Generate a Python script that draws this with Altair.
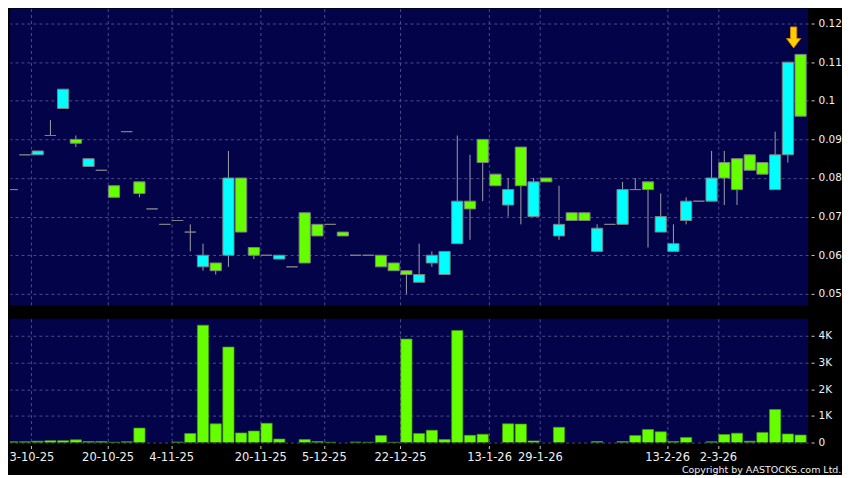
import altair as alt
import pandas as pd

# ---- data ----
slots = list(range(63))
opens = [0.077, 0.086, 0.086, 0.091, 0.098, 0.090, 0.083, 0.082, 0.078, 0.092,
         0.079, 0.072, 0.068, 0.069, 0.066, 0.057, 0.058, 0.060, 0.080, 0.062,
         0.060, 0.059, 0.057, 0.071, 0.068, 0.068, 0.066, 0.060, 0.060, 0.060,
         0.058, 0.056, 0.053, 0.058, 0.055, 0.063, 0.074, 0.090, 0.081, 0.073,
         0.088, 0.070, 0.080, 0.065, 0.071, 0.071, 0.061, 0.068, 0.068, 0.077,
         0.079, 0.066, 0.061, 0.069, 0.074, 0.074, 0.084, 0.085, 0.086, 0.084,
         0.077, 0.086, 0.112]
closes = [0.077, 0.086, 0.087, 0.091, 0.103, 0.089, 0.085, 0.082, 0.075, 0.092,
          0.076, 0.072, 0.068, 0.069, 0.066, 0.060, 0.056, 0.080, 0.066, 0.060,
          0.060, 0.060, 0.057, 0.058, 0.065, 0.068, 0.065, 0.060, 0.060, 0.057,
          0.056, 0.055, 0.055, 0.060, 0.061, 0.074, 0.072, 0.084, 0.078, 0.077,
          0.078, 0.079, 0.079, 0.068, 0.069, 0.069, 0.067, 0.068, 0.077, 0.077,
          0.077, 0.070, 0.063, 0.074, 0.074, 0.080, 0.080, 0.077, 0.082, 0.081,
          0.086, 0.110, 0.096]
highs = [0.077, 0.086, 0.087, 0.095, 0.103, 0.091, 0.085, 0.082, 0.078, 0.092,
         0.079, 0.072, 0.068, 0.069, 0.068, 0.063, 0.058, 0.087, 0.080, 0.062,
         0.060, 0.060, 0.057, 0.071, 0.068, 0.068, 0.066, 0.060, 0.060, 0.060,
         0.058, 0.056, 0.063, 0.061, 0.061, 0.091, 0.086, 0.090, 0.081, 0.080,
         0.088, 0.080, 0.080, 0.078, 0.071, 0.071, 0.068, 0.068, 0.079, 0.080,
         0.079, 0.076, 0.068, 0.075, 0.074, 0.087, 0.087, 0.085, 0.086, 0.084,
         0.092, 0.110, 0.112]
lows = [0.077, 0.086, 0.086, 0.091, 0.098, 0.088, 0.083, 0.082, 0.075, 0.092,
        0.075, 0.072, 0.068, 0.069, 0.061, 0.056, 0.055, 0.057, 0.066, 0.059,
        0.060, 0.059, 0.057, 0.058, 0.065, 0.068, 0.065, 0.060, 0.060, 0.057,
        0.056, 0.050, 0.053, 0.057, 0.055, 0.063, 0.064, 0.074, 0.078, 0.070,
        0.068, 0.070, 0.079, 0.064, 0.069, 0.069, 0.061, 0.068, 0.068, 0.077,
        0.062, 0.066, 0.061, 0.068, 0.074, 0.074, 0.073, 0.073, 0.082, 0.081,
        0.077, 0.084, 0.096]
volumes = [30, 30, 50, 70, 70, 100, 40, 40, 10, 30,
           540, 0, 0, 20, 340, 4400, 700, 3580, 360, 430,
           720, 130, 0, 110, 40, 10, 0, 20, 10, 260,
           10, 3880, 340, 460, 110, 4200, 270, 310, 0, 700,
           690, 60, 0, 570, 0, 0, 40, 0, 40, 260,
           490, 400, 40, 190, 0, 30, 300, 350, 50, 380,
           1240, 320, 280]
tick_slots = [2, 8, 13, 20, 25, 31, 38, 42, 52, 56]
tick_labels = ["3-10-25", "20-10-25", "4-11-25", "20-11-25", "5-12-25",
               "22-12-25", "13-1-26", "29-1-26", "13-2-26", "2-3-26"]
price_ticks = [0.05, 0.055, 0.06, 0.065, 0.07, 0.075, 0.08, 0.085, 0.09,
               0.095, 0.1, 0.105, 0.11, 0.115, 0.12]
volume_ticks = [0, 1000, 2000, 3000, 4000]

# ---- styling ----
BG = "#000000"
PANEL = "#03034a"
GRID = "#4c4c8c"
CYAN = "#00FFFF"
GREEN = "#66FF00"
OUTLINE = "#808080"
WICK = "#a0a0a8"
FONT = "DejaVu Sans"
TXT = "#f0f0f0"

df = pd.DataFrame({"i": slots, "open": opens, "close": closes,
                   "high": highs, "low": lows, "vol": volumes})

tick_vals = [s - 0.5 for s in tick_slots]
label_expr = ""
for v, lab in zip(tick_vals, tick_labels):
    label_expr += f"datum.value == {v} ? '{lab}' : "
label_expr += "''"

xscale = alt.Scale(domain=[-0.18, 62.59], nice=False, zero=False)

base = alt.Chart(df).transform_calculate(
    x1="datum.i - 0.44",
    x2="datum.i + 0.44",
    lo="min(datum.open, datum.close)",
    hi="max(datum.open, datum.close)",
    dir="datum.close > datum.open ? 'up' : (datum.close < datum.open ? 'down' : 'flat')",
)

x_grid_axis = alt.Axis(values=tick_vals, grid=True, gridDash=[3, 3], gridColor=GRID,
                       gridWidth=1, labels=False, ticks=False, domain=False, title=None)

price_axis = alt.Axis(orient="right", values=price_ticks, format=".3~f", grid=True,
                      gridDash=[3, 3], gridColor=GRID, gridWidth=1, ticks=True,
                      tickSize=3, tickColor="#c8c8c8", offset=3, labelPadding=4,
                      labelColor=TXT, labelFontSize=10.5, labelFont=FONT,
                      domain=False, title=None)

yscale = alt.Scale(domain=[0.0469, 0.12387], nice=False, zero=False)

wicks = base.mark_rule(color=WICK, strokeWidth=1, clip=True).encode(
    x=alt.X("i:Q", scale=xscale, axis=x_grid_axis),
    y=alt.Y("low:Q", scale=yscale, axis=price_axis),
    y2="high:Q",
)

bodies = base.mark_rect(stroke=OUTLINE, strokeWidth=1, clip=True).encode(
    x=alt.X("x1:Q", scale=xscale),
    x2="x2:Q",
    y=alt.Y("lo:Q", scale=yscale),
    y2="hi:Q",
    fill=alt.Fill("dir:N", scale=alt.Scale(domain=["up", "down", "flat"],
                                           range=[CYAN, GREEN, OUTLINE]), legend=None),
)

last = df.tail(1)
arrow_path = "M-0.3,-1L0.3,-1L0.3,0.1L0.68,0.1L0,1L-0.68,0.1L-0.3,0.1Z"
arrow = alt.Chart(last).mark_point(
    shape=arrow_path, filled=True, fill="#FFD000", stroke="#D08000",
    strokeWidth=1, size=441, opacity=1, xOffset=-7, yOffset=-17, clip=True,
).encode(
    x=alt.X("i:Q", scale=xscale),
    y=alt.Y("high:Q", scale=yscale),
)

price = alt.layer(wicks, bodies, arrow).properties(width=800, height=298)

vol_x_axis = alt.Axis(values=tick_vals, labelExpr=label_expr, grid=True, gridDash=[3, 3],
                      gridColor=GRID, gridWidth=1, ticks=True, tickSize=3,
                      tickColor="#c8c8c8", offset=3, labelPadding=3, labelAngle=0,
                      labelColor=TXT, labelFontSize=11.5, labelFont=FONT,
                      labelOverlap=False, domain=False, title=None)
vol_y_axis = alt.Axis(orient="right", values=volume_ticks,
                      labelExpr="datum.value == 0 ? '0' : (datum.value / 1000) + 'K'",
                      grid=True, gridDash=[3, 3], gridColor=GRID, gridWidth=1,
                      ticks=True, tickSize=3, tickColor="#c8c8c8", offset=3,
                      labelPadding=4, labelColor=TXT, labelFontSize=10.5,
                      labelFont=FONT, domain=False, title=None)

volume = base.transform_filter("datum.vol > 0").mark_rect(
    color=GREEN, stroke="#4a9a10", strokeWidth=0.7, clip=True
).encode(
    x=alt.X("x1:Q", scale=xscale, axis=vol_x_axis),
    x2="x2:Q",
    y=alt.Y("vol:Q", scale=alt.Scale(domain=[0, 4640], nice=False), axis=vol_y_axis),
    y2=alt.datum(0),
).properties(width=800, height=124)

chart = alt.vconcat(price, volume, spacing=13).properties(
    padding=0,
    background=BG,
    title=alt.TitleParams("Copyright by AASTOCKS.com Ltd.", orient="bottom", anchor="end",
                          fontSize=9.5, font=FONT, fontWeight="normal", color=TXT,
                          offset=2),
).configure_view(fill=PANEL, stroke=None)

chart.save("out.html", embed_options={"renderer": "svg", "actions": False})
